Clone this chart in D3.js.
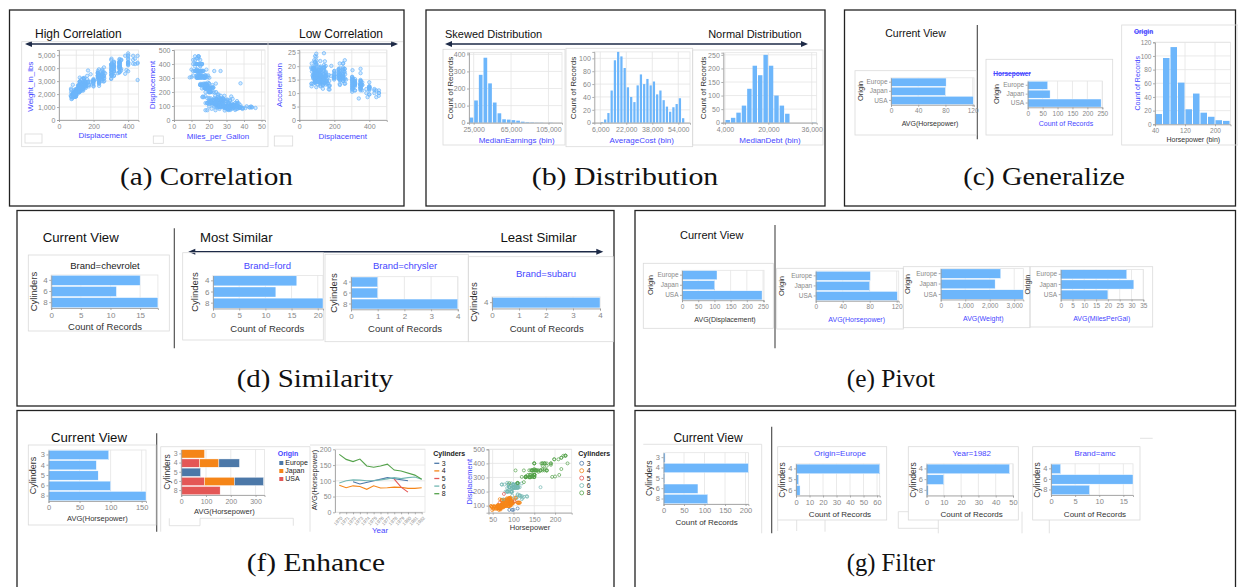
<!DOCTYPE html>
<html>
<head>
<meta charset="utf-8">
<script src="https://cdn.jsdelivr.net/npm/d3@7"></script>
<style>
  html, body { margin: 0; padding: 0; background: #fff; }
  svg { display: block; }
</style>
</head>
<body>
<svg id="fig" width="1238" height="587"></svg>
<script>
// auto-mpg records: [mpg, cylinders, displacement, horsepower, weight, acceleration]
const cars = [
  [18,8,307,130,3504,12],[15,8,350,165,3693,11.5],[18,8,318,150,3436,11],[16,8,304,150,3433,12],
  [17,8,302,140,3449,10.5],[15,8,429,198,4341,10],[14,8,454,220,4354,9],[14,8,440,215,4312,8.5],
  [14,8,455,225,4425,10],[15,8,390,190,3850,8.5],[15,8,383,170,3563,10],[14,8,340,160,3609,8],
  [15,8,400,150,3761,9.5],[14,8,455,225,3086,10],[24,4,113,95,2372,15],[22,6,198,95,2833,15.5],
  [18,6,199,97,2774,15.5],[21,6,200,85,2587,16],[27,4,97,88,2130,14.5],[26,4,97,46,1835,20.5],
  [25,4,110,87,2672,17.5],[24,4,107,90,2430,14.5],[25,4,104,95,2375,17.5],[26,4,121,113,2234,12.5],
  [21,6,199,90,2648,15],[10,8,360,215,4615,14],[10,8,307,200,4376,15],[11,8,318,210,4382,13.5],
  [9,8,304,193,4732,18.5],[27,4,97,88,2130,14.5],[28,4,140,90,2264,15.5],[25,4,113,95,2228,14],
  [19,6,232,100,2634,13],[16,6,225,105,3439,15.5],[17,6,250,100,3329,15.5],[19,6,250,88,3302,15.5],
  [18,6,232,100,3288,15.5],[14,8,350,165,4209,12],[14,8,400,175,4464,11.5],[14,8,351,153,4154,13.5],
  [14,8,318,150,4096,13],[12,8,383,180,4955,11.5],[13,8,400,170,4746,12],[13,8,400,175,5140,12],
  [18,6,258,110,2962,13.5],[22,4,140,72,2408,19],[19,6,250,100,3282,15],[18,6,250,88,3139,14.5],
  [23,4,122,86,2220,14],[28,4,116,90,2123,14],[30,4,79,70,2074,19.5],[30,4,88,76,2065,14.5],
  [31,4,71,65,1773,19],[35,4,72,69,1613,18],[27,4,97,60,1834,19],[26,4,91,70,1955,20.5],
  [24,4,113,95,2278,15.5],[25,4,97.5,80,2126,17],[23,4,97,54,2254,23.5],[20,4,140,90,2408,19.5],
  [21,4,122,86,2226,16.5],[13,8,350,165,4274,12],[14,8,400,175,4385,12],[15,8,318,150,4135,13.5],
  [14,8,351,153,4129,13],[17,8,304,150,3672,11.5],[11,8,429,208,4633,11],[13,8,350,155,4502,13.5],
  [12,8,350,160,4456,13.5],[13,8,400,190,4422,12.5],[19,3,70,97,2330,13.5],[15,8,304,150,3892,12.5],
  [13,8,307,130,4098,14],[13,8,302,140,4294,16],[14,8,318,150,4077,14],[18,4,121,112,2933,14.5],
  [22,4,121,76,2511,18],[21,4,120,87,2979,19.5],[26,4,96,69,2189,18],[22,4,122,86,2395,16],
  [28,4,97,92,2288,17],[23,4,120,97,2506,14.5],[28,4,98,80,2164,15],[27,4,97,88,2100,16.5],
  [13,8,350,175,4100,13],[14,8,304,150,3672,11.5],[13,8,350,145,3988,13],[14,8,302,137,4042,14.5],
  [15,8,318,150,3777,12.5],[12,8,429,198,4952,11.5],[13,8,400,150,4464,12],[13,8,351,158,4363,13],
  [14,8,318,150,4237,14.5],[13,8,440,215,4735,11],[12,8,455,225,4951,11],[13,8,360,175,3821,11],
  [18,6,225,105,3121,16.5],[16,6,250,100,3278,18],[18,6,232,100,2945,16],[18,6,250,88,3021,16.5],
  [23,6,198,95,2904,16],[26,4,97,46,1950,21],[11,8,400,150,4997,14],[12,8,400,167,4906,12.5],
  [13,8,360,170,4654,13],[12,8,350,180,4499,12.5],[18,6,232,100,2789,15],[20,4,97,88,2279,19],
  [21,4,140,72,2401,19.5],[22,4,108,94,2379,16.5],[18,3,70,90,2124,13.5],[19,4,122,85,2310,18.5],
  [21,6,155,107,2472,14],[26,4,98,90,2265,15.5],[15,8,350,145,4082,13],[16,8,400,230,4278,9.5],
  [29,4,68,49,1867,19.5],[24,4,116,75,2158,15.5],[20,4,114,91,2582,14],[19,4,121,112,2868,15.5],
  [15,8,318,150,3399,11],[24,4,121,110,2660,14],[20,6,156,122,2807,13.5],[11,8,350,180,3664,11],
  [20,6,198,95,3102,16.5],[19,6,232,100,2901,16],[15,6,250,100,3336,17],[31,4,79,67,1950,19],
  [26,4,122,80,2451,16.5],[32,4,71,65,1836,21],[25,4,140,75,2542,17],[16,6,250,100,3781,17],
  [16,6,258,110,3632,18],[18,6,225,105,3613,16.5],[16,8,302,140,4141,14],[13,8,350,150,4699,14.5],
  [14,8,318,150,4457,13.5],[14,8,302,140,4638,16],[14,8,304,150,4257,15.5],[29,4,98,83,2219,16.5],
  [26,4,79,67,1963,15.5],[26,4,97,78,2300,14.5],[31,4,76,52,1649,16.5],[32,4,83,61,2003,19],
  [28,4,90,75,2125,14.5],[24,4,90,75,2108,15.5],[26,4,116,75,2246,14],[24,4,120,97,2489,15],
  [26,4,108,93,2391,15.5],[31,4,79,67,2000,16],[19,6,225,95,3264,16],[18,6,250,105,3459,16],
  [15,6,250,72,3432,21],[15,6,250,72,3158,19.5],[16,8,400,170,4668,11.5],[15,8,350,145,4440,14],
  [16,8,318,150,4498,14.5],[14,8,351,148,4657,13.5],[17,6,231,110,3907,21],[16,6,250,105,3897,18.5],
  [15,6,258,110,3730,19],[18,6,225,95,3785,19],[21,6,231,110,3039,15],[20,8,262,110,3221,13.5],
  [13,8,302,129,3169,12],[29,4,97,75,2171,16],[23,4,140,83,2639,17],[20,6,232,100,2914,16],
  [23,4,140,78,2592,18.5],[24,4,134,96,2702,13.5],[25,4,90,71,2223,16.5],[24,4,119,97,2545,17],
  [18,6,171,97,2984,14.5],[29,4,90,70,1937,14],[19,6,232,90,3211,17],[23,4,115,95,2694,15],
  [23,4,120,88,2957,17],[22,4,121,98,2945,14.5],[25,4,121,115,2671,13.5],[33,4,91,53,1795,17.5],
  [28,4,107,86,2464,15.5],[25,4,116,81,2220,16.9],[25,4,140,92,2572,14.9],[26,4,98,79,2255,17.7],
  [27,4,101,83,2202,15.3],[17.5,8,305,140,4215,13],[16,8,318,150,4190,13],[15.5,8,304,120,3962,13.9],
  [14.5,8,351,152,4215,12.8],[22,6,225,100,3233,15.4],[22,6,250,105,3353,14.5],[24,6,200,81,3012,17.6],
  [22.5,6,232,90,3085,17.6],[29,4,85,52,2035,22.2],[24.5,4,98,60,2164,22.1],[29,4,90,70,1937,14.2],
  [33,4,91,53,1795,17.4],[20,6,225,100,3651,17.7],[18,6,250,78,3574,21],[18.5,6,250,110,3645,16.2],
  [17.5,6,258,95,3193,17.8],[29.5,4,97,71,1825,12.2],[32,4,85,70,1990,17],[28,4,97,75,2155,16.4],
  [26.5,4,140,72,2565,13.6],[20,4,130,102,3150,15.7],[13,8,318,150,3940,13.2],[19,4,120,88,3270,21.9],
  [19,6,156,108,2930,15.5],[16.5,6,168,120,3820,16.7],[16.5,8,350,180,4380,12.1],[13,8,350,145,4055,12],
  [13,8,302,130,3870,15],[13,8,318,150,3755,14],[31.5,4,98,68,2045,18.5],[30,4,111,80,2155,14.8],
  [36,4,79,58,1825,18.6],[25.5,4,122,96,2300,15.5],[33.5,4,85,70,1945,16.8],[17.5,8,305,145,3880,12.5],
  [17,8,260,110,4060,19],[15.5,8,318,145,4140,13.7],[15,8,302,130,4295,14.9],[17.5,6,250,110,3520,16.4],
  [20.5,6,231,105,3425,16.9],[19,6,225,100,3630,17.7],[18.5,6,250,98,3525,19],[16,8,400,180,4220,11.1],
  [15.5,8,350,170,4165,11.4],[15.5,8,400,190,4325,12.2],[16,8,351,149,4335,14.5],[29,4,97,78,1940,14.5],
  [24.5,4,151,88,2740,16],[26,4,97,75,2265,18.2],[25.5,4,140,89,2755,15.8],[30.5,4,98,63,2051,17],
  [33.5,4,98,83,2075,15.9],[30,4,97,67,1985,16.4],[30.5,4,97,78,2190,14.1],[22,6,146,97,2815,14.5],
  [21.5,4,121,110,2600,12.8],[21.5,3,80,110,2720,13.5],[43.1,4,90,48,1985,21.5],[36.1,4,98,66,1800,14.4],
  [32.8,4,78,52,1985,19.4],[39.4,4,85,70,2070,18.6],[36.1,4,91,60,1800,16.4],[19.9,8,260,110,3365,15.5],
  [19.4,8,318,140,3735,13.2],[20.2,8,302,139,3570,12.8],[19.2,6,231,105,3535,19.2],[20.5,6,200,95,3155,18.2],
  [20.2,6,200,85,2965,15.8],[25.1,4,140,88,2720,15.4],[20.5,6,225,100,3430,17.2],[19.4,6,232,90,3210,17.2],
  [20.6,6,231,105,3380,15.8],[20.8,6,200,85,3070,16.7],[18.6,6,225,110,3620,18.7],[18.1,6,258,120,3410,15.1],
  [19.2,8,305,145,3425,13.2],[17.7,6,231,165,3445,13.4],[18.1,8,302,139,3205,11.2],[17.5,8,318,140,4080,13.7],
  [30,4,98,68,2155,16.5],[27.5,4,134,95,2560,14.2],[27.2,4,119,97,2300,14.7],[30.9,4,105,75,2230,14.5],
  [21.1,4,134,95,2515,14.8],[23.2,4,156,105,2745,16.7],[23.8,4,151,85,2855,17.6],[23.9,4,119,97,2405,14.9],
  [20.3,5,131,103,2830,15.9],[17,6,163,125,3140,13.6],[21.6,4,121,115,2795,15.7],[16.2,6,163,133,3410,15.8],
  [31.5,4,89,71,1990,14.9],[29.5,4,98,68,2135,16.6],[21.5,6,231,115,3245,15.4],[19.8,6,200,85,2990,18.2],
  [22.3,4,140,88,2890,17.3],[20.2,6,232,90,3265,18.2],[20.6,6,225,110,3360,16.6],[17,8,305,130,3840,15.4],
  [17.6,8,302,129,3725,13.4],[16.5,8,351,138,3955,13.2],[18.2,8,318,135,3830,15.2],[16.9,8,350,155,4360,14.9],
  [15.5,8,351,142,4054,14.3],[19.2,8,267,125,3605,15],[18.5,8,360,150,3940,13],[31.9,4,89,71,1925,14],
  [34.1,4,86,65,1975,15.2],[35.7,4,98,80,1915,14.4],[27.4,4,121,80,2670,15],[25.4,5,183,77,3530,20.1],
  [23,8,350,125,3900,17.4],[27.2,4,141,71,3190,24.8],[23.9,8,260,90,3420,22.2],[34.2,4,105,70,2200,13.2],
  [34.5,4,105,70,2150,14.9],[31.8,4,85,65,2020,19.2],[37.3,4,91,69,2130,14.7],[28.4,4,151,90,2670,16],
  [28.8,6,173,115,2595,11.3],[26.8,6,173,115,2700,12.9],[33.5,4,151,90,2556,13.2],[41.5,4,98,76,2144,14.7],
  [38.1,4,89,60,1968,18.8],[32.1,4,98,70,2120,15.5],[37.2,4,86,65,2019,16.4],[28,4,151,90,2678,16.5],
  [26.4,4,140,88,2870,18.1],[24.3,4,151,90,3003,20.1],[19.1,6,225,90,3381,18.7],[34.3,4,97,78,2188,15.8],
  [29.8,4,134,90,2711,15.5],[31.3,4,120,75,2542,17.5],[37,4,119,92,2434,15],[32.2,4,108,75,2265,15.2],
  [46.6,4,86,65,2110,17.9],[27.9,4,156,105,2800,14.4],[40.8,4,85,65,2110,19.2],[44.3,4,90,48,2085,21.7],
  [43.4,4,90,48,2335,23.7],[36.4,5,121,67,2950,19.9],[30,4,146,67,3250,21.8],[44.6,4,91,67,1850,13.8],
  [33.8,4,97,67,2145,18],[29.8,4,89,62,1845,15.3],[32.7,6,168,132,2910,11.4],[23.7,3,70,100,2420,12.5],
  [35,4,122,88,2500,15.1],[32.4,4,107,72,2290,17],[27.2,4,135,84,2490,15.7],[26.6,4,151,84,2635,16.4],
  [25.8,4,156,92,2620,14.4],[23.5,6,173,110,2725,12.6],[30,4,135,84,2385,12.9],[39.1,4,79,58,1755,16.9],
  [39,4,86,64,1875,16.4],[35.1,4,81,60,1760,16.1],[32.3,4,97,67,2065,17.8],[37,4,85,65,1975,19.4],
  [37.7,4,89,62,2050,17.3],[34.1,4,91,68,1985,16],[34.7,4,105,63,2215,14.9],[34.4,4,98,65,2045,16.2],
  [29.9,4,98,65,2380,20.7],[33,4,105,74,2190,14.2],[33.7,4,107,75,2210,14.4],[32.4,4,108,75,2350,16.8],
  [32.9,4,119,100,2615,14.8],[31.6,4,120,74,2635,18.3],[28.1,4,141,80,3230,20.4],[30.7,6,145,76,3160,19.6],
  [25.4,6,168,116,2900,12.6],[24.2,6,146,120,2930,13.8],[22.4,6,231,110,3415,15.8],[26.6,8,350,105,3725,19],
  [20.2,6,200,88,3060,17.1],[17.6,6,225,85,3465,16.6],[28,4,112,88,2605,19.6],[27,4,112,88,2640,18.6],
  [34,4,112,88,2395,18],[31,4,112,85,2575,16.2],[29,4,135,84,2525,16],[27,4,151,90,2735,18],
  [24,4,140,92,2865,16.4],[36,4,105,74,1980,15.3],[37,4,91,68,2025,18.2],[31,4,91,68,1970,17.6],
  [38,4,105,63,2125,14.7],[36,4,98,70,2125,17.3],[36,4,120,88,2160,14.5],[36,4,107,75,2205,14.5],
  [34,4,108,70,2245,16.9],[38,4,91,67,1965,15],[32,4,91,67,1965,15.7],[38,4,91,67,1995,16.2],
  [25,6,181,110,2945,16.4],[38,6,262,85,3015,17],[26,4,156,92,2585,14.5],[22,6,232,112,2835,14.7],
  [32,4,144,96,2665,13.9],[36,4,135,84,2370,13],[27,4,151,90,2950,17.3],[27,4,140,86,2790,15.6],
  [44,4,97,52,2130,24.6],[32,4,135,84,2295,11.6],[28,4,120,79,2625,18.6],[31,4,119,82,2720,19.4]
];

// college scorecard histograms (count of records per bin)
const earningsBins = [30, 130, 280, 380, 230, 118, 55, 20, 18, 15, 12, 6, 3, 2, 1, 1, 0, 1, 0]; // 5,000 wide from 20,000
const costBins = [1, 5, 15, 50, 97, 110, 103, 85, 55, 40, 32, 58, 75, 60, 68, 58, 64, 44, 50, 35, 25, 17, 24, 29, 38, 7]; // 2,000 wide from 6,000
const debtBins = [10, 18, 37, 63, 125, 210, 175, 250, 210, 100, 63, 33, 0, 0, 0, 0, 1]; // 2,000 wide from 4,000
const hpBins = [15, 97, 113, 61, 22, 45, 17, 11, 6, 5]; // Horsepower, 20 wide from 40

const origins = ['Europe', 'Japan', 'USA'];
const avgHp = [81, 80, 121];
const recordsByOrigin = [67, 75, 246];
const avgDisplacement = [108, 101, 247];
const avgWeight = [2450, 2220, 3370];
const avgMpg = [28, 31, 20];

const cyl468 = ['4', '6', '8'];
const chevrolet = [15, 11, 18];
const ford = [16, 12, 21];
const chrysler = [1, 1, 4];
const subaruCyl = ['4'];
const subaru = [4];

const cylAll = ['3', '4', '5', '6', '8'];
const avgHpByCyl = [97, 77, 80, 100, 157];
const hpUSA = [0, 74, 0, 94, 157];
const hpJapan = [94, 78, 0, 121, 0];
const hpEurope = [0, 83, 78, 117, 0];

const years = [1970, 1971, 1972, 1973, 1974, 1975, 1976, 1977, 1978, 1979, 1980, 1981, 1982];
const hpYear3 = [null, null, 97, 90, null, null, null, 110, null, null, 100, null, null];
const hpYear4 = [86, 78, 84, 82, 73, 84, 77, 78, 80, 79, 76, 76, 78];
const hpYear5 = [null, null, null, null, null, null, null, null, 105, 80, 64, null, null];
const hpYear6 = [93, 100, 103, 102, 100, 101, 103, 106, 110, 107, 110, 112, 105];
const hpYear8 = [184, 168, 161, 169, 147, 143, 147, 153, 134, 131, null, 118, 105];

const recordsByCyl = [4, 207, 3, 84, 108];
const cyl456 = ['4', '5', '6'];
const europeRecords = [62, 2, 3];
const year1982Records = [48, 10, 1];
const amcRecords = [2, 17, 8];

const SANS = '"Liberation Sans", Arial, Helvetica, sans-serif';
const SERIF = '"Liberation Serif", "Times New Roman", serif';
const BAR = '#6db6fb';
const GRID = '#e4e4e4';
const AXIS = '#9a9a9a';
const TICK = '#888';
const DARK = '#333';
const BLUE = '#4646ff';
const NAVY = '#1d2a47';
const cylColor = d3.scaleOrdinal(['3', '4', '5', '6', '8'], ['#4c78a8', '#f58518', '#e45756', '#72b7b2', '#54a24b']);
const originColor = { Europe: '#4c78a8', Japan: '#f58518', USA: '#e45756' };

const svg = d3.select('#fig');
svg.append('rect').attr('width', 1238).attr('height', 587).attr('fill', '#fff');
const ann = svg.append('g');

function label(g, x, y, s, o = {}) {
  const t = g.append('text')
    .attr('x', x).attr('y', y)
    .attr('font-family', o.family || SANS)
    .attr('font-size', o.size || 8)
    .attr('fill', o.color || DARK)
    .attr('text-anchor', o.anchor || 'middle')
    .text(s);
  if (o.dy) { t.attr('dy', o.dy); }
  if (o.weight) { t.attr('font-weight', o.weight); }
  if (o.strike) { t.attr('text-decoration', 'line-through'); }
  if (o.len) { t.attr('textLength', o.len).attr('lengthAdjust', 'spacingAndGlyphs'); }
  return t;
}

function vlabel(g, x, cy, s, o = {}) {
  return g.append('text')
    .attr('transform', `translate(${x},${cy}) rotate(-90)`)
    .attr('dy', '0.35em')
    .attr('font-family', SANS)
    .attr('font-size', o.size || 8)
    .attr('fill', o.color || DARK)
    .attr('text-anchor', 'middle')
    .text(s);
}

function styleAxis(ag, fs) {
  ag.attr('font-family', SANS).attr('font-size', fs);
  ag.select('.domain').attr('stroke', AXIS).attr('stroke-width', 0.8);
  ag.selectAll('.tick line').attr('stroke', AXIS).attr('stroke-width', 0.8);
  ag.selectAll('.tick text').attr('fill', TICK);
}

function box(x1, y1, x2, y2, color = '#dadada', w = 0.8) {
  svg.append('rect').attr('x', x1).attr('y', y1).attr('width', x2 - x1).attr('height', y2 - y1)
    .attr('fill', 'none').attr('stroke', color).attr('stroke-width', w);
}

function path(d, color = '#dadada', w = 0.8) {
  svg.append('path').attr('d', d).attr('fill', 'none').attr('stroke', color).attr('stroke-width', w);
}

function plotFrame(g, l, t, r, b) {
  g.append('rect').attr('x', l).attr('y', t).attr('width', r - l).attr('height', b - t)
    .attr('fill', 'none').attr('stroke', GRID).attr('stroke-width', 0.8);
}

function vgrid(g, x, vals, t, b) {
  g.append('g').selectAll('line').data(vals).join('line')
    .attr('x1', d => x(d)).attr('x2', d => x(d)).attr('y1', t).attr('y2', b)
    .attr('stroke', GRID).attr('stroke-width', 0.8);
}

function hgrid(g, y, vals, l, r) {
  g.append('g').selectAll('line').data(vals).join('line')
    .attr('y1', d => y(d)).attr('y2', d => y(d)).attr('x1', l).attr('x2', r)
    .attr('stroke', GRID).attr('stroke-width', 0.8);
}

function titles(g, o) {
  const fs = o.titleSize || 8;
  if (o.title) { label(g, o.title.x, o.title.y, o.title.s, { size: o.title.size || fs, color: o.title.color || DARK, dy: '0.35em' }); }
  if (o.xt) { label(g, o.xt.x, o.xt.y, o.xt.s, { size: fs, color: o.xt.color || DARK, dy: '0.35em' }); }
  if (o.yt) { vlabel(g, o.yt.x, o.yt.y, o.yt.s, { size: o.yt.size || fs, color: o.yt.color || DARK }); }
}

// horizontal bar chart (optionally stacked)
function hbar(o) {
  const g = svg.append('g');
  const fs = o.fs || 7;
  const x = d3.scaleLinear([0, o.max], [o.l, o.r]);
  const y = d3.scaleBand(o.cats, [o.t, o.b]).paddingInner(0.1).paddingOuter(0.03);
  plotFrame(g, o.l, o.t, o.r, o.b);
  vgrid(g, x, o.ticks, o.t, o.b);
  const layers = o.stacks || [{ vals: o.vals, color: BAR }];
  const base = o.cats.map(() => 0);
  layers.forEach(layer => {
    g.append('g').selectAll('rect').data(layer.vals).join('rect')
      .attr('x', (d, i) => x(base[i]))
      .attr('y', (d, i) => y(o.cats[i]))
      .attr('width', d => Math.max(0, x(d) - x(0)))
      .attr('height', y.bandwidth())
      .attr('fill', layer.color)
      .attr('stroke', '#fff').attr('stroke-width', d => d > 0 ? 0.4 : 0);
    layer.vals.forEach((v, i) => { base[i] += v; });
  });
  const xa = g.append('g').attr('transform', `translate(0,${o.b})`)
    .call(d3.axisBottom(x).tickValues(o.ticks).tickFormat(d3.format(',')).tickSizeOuter(0).tickSize(2).tickPadding(2));
  styleAxis(xa, fs);
  const ya = g.append('g').attr('transform', `translate(${o.l},0)`)
    .call(d3.axisLeft(y).tickSize(2).tickSizeOuter(0).tickPadding(1.5));
  styleAxis(ya, fs);
  titles(g, o);
}

// histogram with calibrated x scale
function hist(o) {
  const g = svg.append('g');
  const fs = o.fs || 7;
  const cal = d3.scaleLinear(o.xd, o.xr);
  const x = d3.scaleLinear([cal.invert(o.l), cal.invert(o.r)], [o.l, o.r]);
  const y = d3.scaleLinear([0, o.ymax], [o.b, o.t]);
  plotFrame(g, o.l, o.t, o.r, o.b);
  vgrid(g, x, o.xTicks, o.t, o.b);
  hgrid(g, y, o.yTicks, o.l, o.r);
  g.append('g').selectAll('rect').data(o.bins).join('rect')
    .attr('x', (d, i) => x(o.start + i * o.step) + 0.5)
    .attr('width', (d, i) => Math.max(0, Math.min(x(o.start + (i + 1) * o.step), o.r) - x(o.start + i * o.step) - 1))
    .attr('y', d => y(d))
    .attr('height', d => o.b - y(d))
    .attr('fill', BAR);
  const xa = g.append('g').attr('transform', `translate(0,${o.b})`)
    .call(d3.axisBottom(x).tickValues(o.xTicks).tickFormat(d3.format(',')).tickSizeOuter(0).tickSize(2).tickPadding(2));
  styleAxis(xa, fs);
  const ya = g.append('g').attr('transform', `translate(${o.l},0)`)
    .call(d3.axisLeft(y).tickValues(o.yTicks).tickFormat(d3.format(',')).tickSizeOuter(0).tickSize(2).tickPadding(1.5));
  styleAxis(ya, fs);
  titles(g, o);
}

// scatter plot
function scatter(o) {
  const g = svg.append('g');
  const fs = o.fs || 7;
  const x = d3.scaleLinear(o.xd, [o.l, o.r]);
  const y = d3.scaleLinear(o.yd, [o.b, o.t]);
  plotFrame(g, o.l, o.t, o.r, o.b);
  vgrid(g, x, o.xGrid || o.xTicks, o.t, o.b);
  hgrid(g, y, o.yGrid || o.yTicks, o.l, o.r);
  g.append('g').selectAll('circle').data(o.pts).join('circle')
    .attr('cx', d => x(d[0])).attr('cy', d => y(d[1])).attr('r', o.rad || 1.7)
    .attr('fill', d => o.fill ? (d[2] ? cylColor(d[2]) : BAR) : 'none')
    .attr('fill-opacity', 0.3)
    .attr('stroke', d => d[2] ? cylColor(d[2]) : BAR)
    .attr('stroke-width', 0.7);
  const xa = g.append('g').attr('transform', `translate(0,${o.b})`)
    .call(d3.axisBottom(x).tickValues(o.xTicks).tickFormat(d3.format(',')).tickSizeOuter(0).tickSize(2).tickPadding(2));
  styleAxis(xa, fs);
  const ya = g.append('g').attr('transform', `translate(${o.l},0)`)
    .call(d3.axisLeft(y).tickValues(o.yTicks).tickFormat(d3.format(',')).tickSizeOuter(0).tickSize(2).tickPadding(1.5));
  styleAxis(ya, fs);
  titles(g, o);
}

function arrow(x1, x2, y) {
  svg.append('line').attr('x1', x1 + 4).attr('x2', x2 - 4).attr('y1', y).attr('y2', y)
    .attr('stroke', NAVY).attr('stroke-width', 1.6);
  svg.append('path').attr('d', `M${x1},${y}L${x1 + 7},${y - 3}L${x1 + 7},${y + 3}Z`).attr('fill', NAVY);
  svg.append('path').attr('d', `M${x2},${y}L${x2 - 7},${y - 3}L${x2 - 7},${y + 3}Z`).attr('fill', NAVY);
}

function divider(x, y1, y2) {
  svg.append('line').attr('x1', x).attr('x2', x).attr('y1', y1).attr('y2', y2)
    .attr('stroke', '#444').attr('stroke-width', 1.1);
}

// ---------- panel frames and captions ----------
[[9.5, 10, 404, 206], [426, 10, 825, 206], [844.5, 10, 1235.5, 206],
 [17, 210.5, 614, 406], [635, 210.5, 1235.5, 406],
 [17, 410.5, 614, 600], [635, 410.5, 1235.5, 600]].forEach(b => box(b[0], b[1], b[2], b[3], '#222', 1.3));

[['(a) Correlation', 120, 293, 185], ['(b) Distribution', 531.7, 718.3, 185], ['(c) Generalize', 963.3, 1125, 185],
 ['(d) Similarity', 236.7, 393.3, 387], ['(e) Pivot', 846.7, 935, 387],
 ['(f) Enhance', 246.7, 385, 570.5], ['(g) Filter', 846.7, 935, 570.5]].forEach(c => {
  label(ann, c[1], c[3], c[0], { family: SERIF, size: 26, color: '#111', anchor: 'start', len: c[2] - c[1] });
});

// ---------- (a) Correlation ----------
label(ann, 35, 37.5, 'High Correlation', { size: 12, color: '#111', anchor: 'start' });
label(ann, 383, 37.5, 'Low Correlation', { size: 12, color: '#111', anchor: 'end' });
arrow(25, 398, 44);
path('M268,41.7H403');
box(21.7, 41.7, 268, 146.7);
box(25, 134, 42, 143);
box(153.3, 136, 163.3, 143.3);
box(274.3, 136, 292.7, 146);

scatter({
  l: 59, r: 138.5, t: 50, b: 120, xd: [0, 460], yd: [0, 5400],
  xTicks: [0, 200, 400], xGrid: [0, 100, 200, 300, 400], yTicks: [0, 1000, 2000, 3000, 4000, 5000],
  pts: cars.map(c => [c[2], c[4]]), fill: true,
  yt: { x: 30, y: 86.7, s: 'Weight_in_lbs', color: BLUE },
  xt: { x: 102.7, y: 135, s: 'Displacement', color: BLUE }
});
scatter({
  l: 174, r: 265, t: 50, b: 120, xd: [0, 52], yd: [0, 500],
  xTicks: [0, 10, 20, 30, 40, 50], yTicks: [0, 100, 200, 300, 400, 500],
  pts: cars.map(c => [c[0], c[2]]), fill: true,
  yt: { x: 151.7, y: 85, s: 'Displacement', color: BLUE },
  xt: { x: 218, y: 136.5, s: 'Miles_per_Gallon', color: BLUE }
});
scatter({
  l: 299.3, r: 386.8, t: 50, b: 120, xd: [0, 500], yd: [0, 26],
  xTicks: [0, 200, 400], xGrid: [0, 100, 200, 300, 400, 500], yTicks: [0, 5, 10, 15, 20, 25],
  pts: cars.map(c => [c[2], c[5]]), fill: true,
  yt: { x: 279.3, y: 85, s: 'Acceleration', color: BLUE },
  xt: { x: 342.7, y: 136.5, s: 'Displacement', color: BLUE }
});

// ---------- (b) Distribution ----------
label(ann, 445, 37.7, 'Skewed Distribution', { size: 11, color: '#111', anchor: 'start' });
label(ann, 801.7, 37.7, 'Normal Distribution', { size: 11, color: '#111', anchor: 'end' });
arrow(445, 808, 44);
box(443, 49.3, 565, 145);
box(566, 48.3, 692.7, 146.7);
box(692.7, 50, 823, 145);

hist({
  l: 469, r: 562, t: 52.6, b: 122.7, xd: [20000, 120000], xr: [469, 562.5], ymax: 410,
  bins: earningsBins, start: 20000, step: 5000,
  xTicks: [25000, 65000, 105000], yTicks: [0, 100, 200, 300, 400],
  yt: { x: 450, y: 88, s: 'Count of Records' },
  xt: { x: 516.7, y: 140, s: 'MedianEarnings (bin)', color: BLUE }
});
hist({
  l: 594.3, r: 690, t: 51.9, b: 122.7, xd: [6000, 54000], xr: [600.3, 678.3], ymax: 110,
  bins: costBins, start: 6000, step: 2000,
  xTicks: [6000, 22000, 38000, 54000], yTicks: [0, 20, 40, 60, 80, 100],
  yt: { x: 572.7, y: 88, s: 'Count of Records' },
  xt: { x: 641.7, y: 140, s: 'AverageCost (bin)', color: BLUE }
});
hist({
  l: 723.3, r: 816.7, t: 52.7, b: 122.7, xd: [4000, 36000], xr: [725, 811.7], ymax: 258,
  bins: debtBins, start: 4000, step: 2000,
  xTicks: [4000, 20000, 36000], yTicks: [0, 50, 100, 150, 200, 250],
  yt: { x: 702.7, y: 88, s: 'Count of Records' },
  xt: { x: 770, y: 140, s: 'MedianDebt (bin)', color: BLUE }
});

// ---------- (c) Generalize ----------
label(ann, 915.5, 37.3, 'Current View', { size: 10.5, color: '#111' });
divider(977.3, 25, 139.3);
box(855, 70.7, 976.7, 135);
box(986, 59.3, 1112.7, 135);
box(1121.7, 25, 1238, 145);

hbar({
  l: 891, r: 974, t: 77.8, b: 104.8, max: 122, cats: origins, vals: avgHp,
  ticks: [0, 40, 80, 120], fs: 6.5, titleSize: 7,
  yt: { x: 860.7, y: 91, s: 'Origin', size: 7.5 },
  xt: { x: 930, y: 123.3, s: 'AVG(Horsepower)' }
});
label(ann, 993.3, 73.3, 'Horsepower', { size: 6.5, color: BLUE, anchor: 'start', weight: 'bold', strike: true, dy: '0.35em' });
hbar({
  l: 1027.7, r: 1102.3, t: 81, b: 107.3, max: 250, cats: origins, vals: recordsByOrigin,
  ticks: [0, 50, 100, 150, 200, 250], fs: 6.5, titleSize: 7,
  yt: { x: 996.7, y: 94, s: 'Origin', size: 7.5 },
  xt: { x: 1066, y: 123.3, s: 'Count of Records', color: BLUE }
});
label(ann, 1134, 31.7, 'Origin', { size: 6.5, color: BLUE, anchor: 'start', weight: 'bold', strike: true, dy: '0.35em' });
hist({
  l: 1155, r: 1230.5, t: 42.3, b: 124.3, xd: [40, 240], xr: [1155, 1230], ymax: 120,
  bins: hpBins, start: 40, step: 20, fs: 6.5, titleSize: 7,
  xTicks: [40, 120, 200], yTicks: [0, 20, 40, 60, 80, 100, 120],
  yt: { x: 1137.7, y: 83.3, s: 'Count of Records', color: BLUE },
  xt: { x: 1193.3, y: 139.3, s: 'Horsepower (bin)' }
});

// ---------- (d) Similarity ----------
label(ann, 42.7, 242.3, 'Current View', { size: 13.2, color: '#111', anchor: 'start' });
label(ann, 200, 242.3, 'Most Similar', { size: 13.2, color: '#111', anchor: 'start' });
label(ann, 576.7, 242.3, 'Least Similar', { size: 13.2, color: '#111', anchor: 'end' });
divider(174.3, 228.3, 348.3);
arrow(188.3, 603.3, 251.7);
box(28.3, 255, 169.3, 331);
box(182.7, 252.7, 323.3, 340);
box(325, 254.3, 468.3, 341.7);
box(468.3, 256.7, 613.3, 341.7);

hbar({
  l: 51.2, r: 157.9, t: 275, b: 308, max: 18, cats: cyl468, vals: chevrolet,
  ticks: [0, 5, 10, 15], fs: 8, titleSize: 9.5,
  title: { x: 105, y: 266, s: 'Brand=chevrolet', color: '#222' },
  yt: { x: 34, y: 291.5, s: 'Cylinders' },
  xt: { x: 105, y: 326.7, s: 'Count of Records' }
});
hbar({
  l: 213, r: 323, t: 275.5, b: 308.5, max: 21, cats: cyl468, vals: ford,
  ticks: [0, 5, 10, 15, 20], fs: 8, titleSize: 9.5,
  title: { x: 267.3, y: 266, s: 'Brand=ford', color: BLUE },
  yt: { x: 195, y: 292, s: 'Cylinders' },
  xt: { x: 267.3, y: 328.3, s: 'Count of Records' }
});
hbar({
  l: 351, r: 457.8, t: 276.7, b: 309.3, max: 4, cats: cyl468, vals: chrysler,
  ticks: [0, 1, 2, 3, 4], fs: 8, titleSize: 9.5,
  title: { x: 405, y: 266, s: 'Brand=chrysler', color: BLUE },
  yt: { x: 334, y: 293, s: 'Cylinders' },
  xt: { x: 405, y: 329, s: 'Count of Records' }
});
hbar({
  l: 492, r: 600, t: 296.8, b: 308.5, max: 4, cats: subaruCyl, vals: subaru,
  ticks: [0, 1, 2, 3, 4], fs: 8, titleSize: 9.5,
  title: { x: 546, y: 274, s: 'Brand=subaru', color: BLUE },
  yt: { x: 474, y: 302, s: 'Cylinders' },
  xt: { x: 546.7, y: 328.3, s: 'Count of Records' }
});

// ---------- (e) Pivot ----------
label(ann, 711.7, 239, 'Current View', { size: 11, color: '#111' });
divider(775, 225, 348.3);
box(643.3, 263.3, 773.3, 328.3);
box(776.7, 268.3, 903.3, 329);
box(903.3, 266.7, 1030, 327.7);
box(1030, 266.7, 1152.7, 327);

hbar({
  l: 682, r: 764, t: 270.3, b: 300.2, max: 253, cats: origins, vals: avgDisplacement,
  ticks: [0, 50, 100, 150, 200, 250], fs: 6.5, titleSize: 7,
  yt: { x: 650, y: 285, s: 'Origin', size: 7.5 },
  xt: { x: 725, y: 320, s: 'AVG(Displacement)' }
});
hbar({
  l: 815.7, r: 898.7, t: 271, b: 300.8, max: 123, cats: origins, vals: avgHp,
  ticks: [0, 40, 80, 120], fs: 6.5, titleSize: 7,
  yt: { x: 781.7, y: 286, s: 'Origin', size: 7.5 },
  xt: { x: 856.7, y: 320, s: 'AVG(Horsepower)', color: BLUE }
});
hbar({
  l: 940.7, r: 1023.3, t: 268.6, b: 299.5, max: 3370, cats: origins, vals: avgWeight,
  ticks: [0, 1000, 2000, 3000], fs: 6.5, titleSize: 7,
  yt: { x: 907.3, y: 284, s: 'Origin', size: 7.5 },
  xt: { x: 983.3, y: 318.3, s: 'AVG(Weight)', color: BLUE }
});
hbar({
  l: 1060.7, r: 1143.3, t: 269.5, b: 299.5, max: 35, cats: origins, vals: avgMpg,
  ticks: [0, 5, 10, 15, 20, 25, 30, 35], fs: 6.5, titleSize: 7,
  yt: { x: 1027.3, y: 284.5, s: 'Origin', size: 7.5 },
  xt: { x: 1101.7, y: 318.3, s: 'AVG(MilesPerGal)', color: BLUE }
});

// ---------- (f) Enhance ----------
label(ann, 89, 441.7, 'Current View', { size: 13.2, color: '#111' });
divider(156.7, 433.3, 531.7);
box(28.3, 445, 156, 525);
path('M160.7,531.7V446.7H310V531.7');
path('M169.3,518.3V525.7H200V518.3H293.3V525.7');
path('M310,445H613');

hbar({
  l: 48.5, r: 146, t: 450, b: 501, max: 157, cats: cylAll, vals: avgHpByCyl,
  ticks: [0, 50, 100, 150], fs: 7.5, titleSize: 7.5,
  yt: { x: 32.7, y: 475.5, s: 'Cylinders', size: 9 },
  xt: { x: 97.3, y: 518.3, s: 'AVG(Horsepower)' }
});
hbar({
  l: 181.2, r: 264.5, t: 449.5, b: 495, max: 336, cats: cylAll,
  stacks: [{ vals: hpUSA, color: originColor.USA }, { vals: hpJapan, color: originColor.Japan }, { vals: hpEurope, color: originColor.Europe }],
  ticks: [0, 100, 200, 300], fs: 7, titleSize: 7.5,
  yt: { x: 166.7, y: 472, s: 'Cylinders', size: 8.5 },
  xt: { x: 224.3, y: 511.7, s: 'AVG(Horsepower)' }
});
// origin legend
label(ann, 277.7, 453.3, 'Origin', { size: 7, color: BLUE, anchor: 'start', weight: 'bold', dy: '0.35em' });
origins.forEach((o, i) => {
  const yy = 463 + i * 8;
  ann.append('rect').attr('x', 279.3).attr('y', yy - 2).attr('width', 4).attr('height', 4).attr('fill', originColor[o]);
  label(ann, 285.3, yy, o, { size: 7, color: '#222', anchor: 'start', dy: '0.35em' });
});

// line chart: AVG(Horsepower) by Year and Cylinders
(function () {
  const g = svg.append('g');
  const l = 335, r = 425, t = 449.3, b = 512.3;
  const x = d3.scalePoint(years, [339.3, 421.7]);
  const y = d3.scaleLinear([0, 200], [b, t]);
  plotFrame(g, l, t, r, b);
  hgrid(g, y, [0, 50, 100, 150, 200], l, r);
  const series = [['3', hpYear3], ['4', hpYear4], ['5', hpYear5], ['6', hpYear6], ['8', hpYear8]];
  const line = d3.line().x(d => x(d[0])).y(d => y(d[1]));
  series.forEach(([c, vals]) => {
    const pts = years.map((yr, i) => [yr, vals[i]]).filter(d => d[1] != null);
    g.append('path').attr('d', line(pts)).attr('fill', 'none')
      .attr('stroke', cylColor(c)).attr('stroke-width', 1.1);
  });
  const xa = g.append('g').attr('transform', `translate(0,${b})`)
    .call(d3.axisBottom(x).tickSize(2).tickSizeOuter(0).tickPadding(1));
  styleAxis(xa, 4.6);
  xa.selectAll('.tick text').attr('text-anchor', 'end').attr('dy', '0.3em')
    .attr('transform', 'translate(0,3) rotate(-45)');
  const ya = g.append('g').attr('transform', `translate(${l},0)`)
    .call(d3.axisLeft(y).tickValues([0, 50, 100, 150, 200]).tickSize(2).tickSizeOuter(0).tickPadding(1.5));
  styleAxis(ya, 7);
  vlabel(g, 314, 480, 'AVG(Horsepower)', { size: 7.5 });
  label(g, 380, 530, 'Year', { size: 8, color: BLUE, dy: '0.35em' });
  label(g, 433.3, 453.3, 'Cylinders', { size: 7, color: '#222', anchor: 'start', weight: 'bold', dy: '0.35em' });
  cylAll.forEach((c, i) => {
    const yy = 463.3 + i * 7.6;
    g.append('line').attr('x1', 434.3).attr('x2', 439.3).attr('y1', yy).attr('y2', yy)
      .attr('stroke', cylColor(c)).attr('stroke-width', 1.3);
    label(g, 441.7, yy, c, { size: 7, color: '#222', anchor: 'start', dy: '0.35em' });
  });
})();

scatter({
  l: 488.5, r: 571.7, t: 449.3, b: 512.7, xd: [40, 240], yd: [50, 500], rad: 1.5,
  xTicks: [50, 100, 150, 200], xGrid: [50, 100, 150, 200], yTicks: [100, 200, 300, 400, 500],
  pts: cars.map(c => [c[3], c[2], String(c[1])]), fill: false,
  yt: { x: 469.3, y: 481.7, s: 'Displacement', color: BLUE },
  xt: { x: 530, y: 527.7, s: 'Horsepower' }, titleSize: 7.5
});
label(ann, 578.3, 453.3, 'Cylinders', { size: 7, color: '#222', anchor: 'start', weight: 'bold', dy: '0.35em' });
cylAll.forEach((c, i) => {
  const yy = 463.3 + i * 7.4;
  ann.append('circle').attr('cx', 581.7).attr('cy', yy).attr('r', 2).attr('fill', 'none')
    .attr('stroke', cylColor(c)).attr('stroke-width', 0.8);
  label(ann, 586.7, yy, c, { size: 7, color: '#222', anchor: 'start', dy: '0.35em' });
});

// ---------- (g) Filter ----------
label(ann, 708, 441.7, 'Current View', { size: 12, color: '#111' });
divider(771.7, 426.7, 533.3);
path('M643.3,444.3H761.7V533.3');
box(777.7, 446.7, 886.7, 520);
box(908.3, 446.7, 1018.3, 520);
box(1032.7, 446.7, 1140, 520);
path('M777.7,520V531M796.7,520V531M825,520V531.7');
path('M898.3,511.7H908.3M898.3,511.7V528.3H938.3M938.3,520V533.3');
path('M1022,511.7V533.3M1049.3,520V533.3M1140,438.3H1152.7');

hbar({
  l: 663.5, r: 748.4, t: 452.7, b: 504, max: 207, cats: cylAll, vals: recordsByCyl,
  ticks: [0, 50, 100, 150, 200], fs: 7.5, titleSize: 8,
  yt: { x: 649.3, y: 478.3, s: 'Cylinders', size: 8.5 },
  xt: { x: 706.7, y: 522.3, s: 'Count of Records' }
});
hbar({
  l: 796, r: 879.7, t: 463.8, b: 495.5, max: 62, cats: cyl456, vals: europeRecords,
  ticks: [0, 10, 20, 30, 40, 50, 60], fs: 7.5, titleSize: 8,
  title: { x: 840, y: 452.7, s: 'Origin=Europe', color: BLUE },
  yt: { x: 781.7, y: 480, s: 'Cylinders', size: 8.5 },
  xt: { x: 840, y: 514.3, s: 'Count of Records' }
});
hbar({
  l: 926.5, r: 1013, t: 463.8, b: 495.5, max: 50, cats: cyl468, vals: year1982Records,
  ticks: [0, 10, 20, 30, 40, 50], fs: 7.5, titleSize: 8,
  title: { x: 971.7, y: 452.7, s: 'Year=1982', color: BLUE },
  yt: { x: 912.7, y: 480, s: 'Cylinders', size: 8.5 },
  xt: { x: 971.7, y: 514.3, s: 'Count of Records' }
});
hbar({
  l: 1051, r: 1133, t: 463.8, b: 495, max: 17, cats: cyl468, vals: amcRecords,
  ticks: [0, 5, 10, 15], fs: 7.5, titleSize: 8,
  title: { x: 1095, y: 452.7, s: 'Brand=amc', color: BLUE },
  yt: { x: 1036.7, y: 480, s: 'Cylinders', size: 8.5 },
  xt: { x: 1095, y: 514.3, s: 'Count of Records' }
});
</script>
</body>
</html>
